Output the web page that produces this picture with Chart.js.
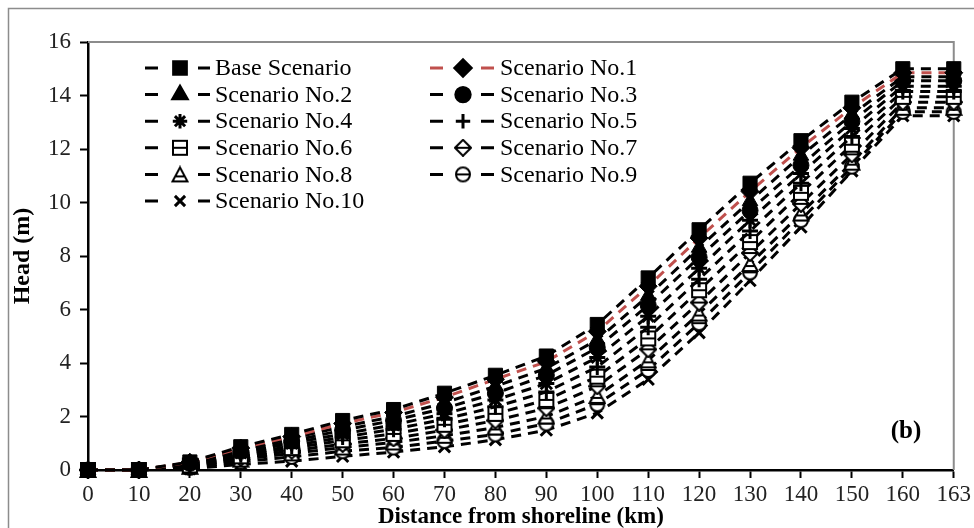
<!DOCTYPE html>
<html>
<head>
<meta charset="utf-8">
<script src="https://cdn.jsdelivr.net/npm/chart.js@4/dist/chart.umd.min.js"></script>
<style>
  html, body { margin: 0; padding: 0; background: #fff; }
  #wrap { width: 974px; height: 528px; }
</style>
</head>
<body>
<div id="wrap"><canvas id="myChart" width="974" height="528"></canvas></div>
<script>
const distances = ["0","10","20","30","40","50","60","70","80","90","100","110","120","130","140","150","160","163"];

const baseScenario = [0,0,0.3,0.87,1.33,1.85,2.26,2.87,3.54,4.26,5.44,7.18,8.98,10.72,12.31,13.75,15.0,15.0];
const scenario1 = [0,0,0.29,0.82,1.25,1.74,2.15,2.72,3.39,4.05,5.18,6.87,8.67,10.41,12.05,13.54,14.85,14.85];
const scenario2 = [0,0,0.27,0.76,1.18,1.62,2.0,2.51,3.13,3.8,4.87,6.51,8.31,10.05,11.75,13.29,14.7,14.7];
const scenario3 = [0,0,0.25,0.7,1.08,1.49,1.85,2.31,2.87,3.54,4.57,6.16,7.95,9.7,11.39,13.03,14.55,14.55];
const scenario4 = [0,0,0.23,0.64,1.0,1.35,1.69,2.1,2.62,3.23,4.21,5.75,7.54,9.34,11.08,12.77,14.35,14.35];
const scenario5 = [0,0,0.2,0.57,0.9,1.23,1.52,1.9,2.36,2.92,3.85,5.34,7.13,8.93,10.72,12.47,14.15,14.15];
const scenario6 = [0,0,0.17,0.51,0.82,1.11,1.35,1.69,2.1,2.62,3.49,4.92,6.72,8.52,10.36,12.16,13.95,13.95];
const scenario7 = [0,0,0.14,0.45,0.72,0.97,1.18,1.49,1.85,2.31,3.13,4.51,6.26,8.11,9.95,11.8,13.75,13.75];
const scenario8 = [0,0,0.12,0.39,0.62,0.84,1.03,1.28,1.59,2.0,2.77,4.1,5.85,7.7,9.59,11.49,13.54,13.54];
const scenario9 = [0,0,0.08,0.31,0.49,0.7,0.84,1.08,1.33,1.74,2.46,3.74,5.49,7.39,9.34,11.34,13.39,13.39];
const scenario10 = [0,0,0.05,0.21,0.33,0.51,0.67,0.87,1.13,1.49,2.13,3.39,5.13,7.08,9.08,11.18,13.24,13.24];

const seriesNames = ["Base Scenario","Scenario No.1","Scenario No.2","Scenario No.3","Scenario No.4",
  "Scenario No.5","Scenario No.6","Scenario No.7","Scenario No.8","Scenario No.9","Scenario No.10"];
const yTicks = [0,2,4,6,8,10,12,14,16];

// open markers with a bar through the middle
function openMarker(shape) {
  const c = document.createElement("canvas");
  c.width = 18; c.height = 18;
  const g = c.getContext("2d");
  g.lineWidth = 2;
  g.strokeStyle = "#000";
  g.fillStyle = "#fff";
  g.beginPath();
  if (shape === "square") g.rect(2, 2, 14, 14);
  if (shape === "diamond") { g.moveTo(9, 1); g.lineTo(17, 9); g.lineTo(9, 17); g.lineTo(1, 9); g.closePath(); }
  if (shape === "triangle") { g.moveTo(9, 2); g.lineTo(16.5, 16); g.lineTo(1.5, 16); g.closePath(); }
  if (shape === "circle") g.arc(9, 9, 7, 0, Math.PI * 2);
  g.fill();
  g.stroke();
  g.beginPath();
  if (shape === "triangle") { g.moveTo(5, 11); g.lineTo(13, 11); }
  else { g.moveTo(2, 9); g.lineTo(16, 9); }
  g.stroke();
  return c;
}

const allData = [baseScenario, scenario1, scenario2, scenario3, scenario4, scenario5,
  scenario6, scenario7, scenario8, scenario9, scenario10];
const styles = [
  { ps: "rect", r: 10, bw: 1 },
  { ps: "rectRot", r: 9, bw: 1, line: "#c0504d" },
  { ps: "triangle", r: 9, bw: 1 },
  { ps: "circle", r: 8, bw: 1 },
  { ps: "star", r: 8, bw: 3 },
  { ps: "cross", r: 8, bw: 3 },
  { ps: openMarker("square"), r: 9, bw: 2 },
  { ps: openMarker("diamond"), r: 9, bw: 2 },
  { ps: openMarker("triangle"), r: 9, bw: 2 },
  { ps: openMarker("circle"), r: 9, bw: 2 },
  { ps: "crossRot", r: 8, bw: 3 }
];

const datasets = allData.map((d, i) => ({
  label: seriesNames[i],
  data: d,
  borderColor: styles[i].line || "#000",
  borderWidth: 3,
  borderDash: [10, 7],
  fill: false,
  tension: 0,
  clip: false,
  pointStyle: styles[i].ps,
  pointRadius: styles[i].r,
  pointBorderWidth: styles[i].bw,
  pointBackgroundColor: "#000",
  pointBorderColor: "#000"
}));

const frame = {
  id: "frame",
  beforeDatasetsDraw(chart) {
    const { ctx, chartArea } = chart;
    ctx.save();
    ctx.strokeStyle = "#8c8c8c";
    ctx.lineWidth = 1.5;
    ctx.beginPath();
    ctx.moveTo(8.5, 528); ctx.lineTo(8.5, 8.5); ctx.lineTo(974, 8.5);
    ctx.stroke();
    ctx.lineWidth = 2;
    ctx.beginPath();
    ctx.moveTo(chartArea.left, chartArea.top); ctx.lineTo(chartArea.right, chartArea.top);
    ctx.lineTo(chartArea.right, chartArea.bottom);
    ctx.stroke();
    ctx.restore();
  },
  afterDraw(chart) {
    const { ctx } = chart;
    ctx.save();
    const cols = [
      { d1: [145, 158], m: 180, d2: [198, 210], t: 213 + 2 },
      { d1: [430, 443], m: 463, d2: [481, 494], t: 500 }
    ];
    chart.data.datasets.forEach((ds, i) => {
      const c = cols[i % 2];
      const y = 68 + Math.floor(i / 2) * 26.6;
      ctx.strokeStyle = ds.borderColor;
      ctx.lineWidth = 3;
      ctx.beginPath();
      ctx.moveTo(c.d1[0], y); ctx.lineTo(c.d1[1], y);
      ctx.moveTo(c.d2[0], y); ctx.lineTo(c.d2[1], y);
      ctx.stroke();
      ctx.fillStyle = "#000";
      ctx.strokeStyle = "#000";
      Chart.helpers.drawPoint(ctx, {
        pointStyle: ds.pointStyle, radius: ds.pointRadius * 0.9,
        borderWidth: ds.pointBorderWidth, rotation: 0
      }, c.m, y);
      ctx.font = '24px "Liberation Serif"';
      ctx.textBaseline = "middle";
      ctx.textAlign = "left";
      ctx.fillText(ds.label, c.t, y + 1);
    });
    ctx.font = 'bold 25px "Liberation Serif"';
    ctx.textAlign = "center";
    ctx.fillText("(b)", 906, 432);
    ctx.restore();
  }
};

new Chart(document.getElementById("myChart").getContext("2d"), {
  type: "line",
  data: { labels: distances, datasets: datasets },
  options: {
    responsive: false,
    animation: false,
    layout: { padding: { top: 42, right: 20, left: 0, bottom: 0 } },
    plugins: { legend: { display: false }, tooltip: { enabled: false } },
    scales: {
      x: {
        offset: false,
        afterFit(scale) { scale.height = 58; },
        grid: { display: true, drawOnChartArea: false, drawTicks: true, tickLength: 8, color: "#000", tickWidth: 2 },
        border: { display: true, color: "#000", width: 2.5 },
        ticks: { color: "#222", font: { family: "Liberation Serif", size: 23 }, padding: 3, maxRotation: 0, autoSkip: false },
        title: { display: true, text: "Distance from shoreline (km)", color: "#000",
          font: { family: "Liberation Serif", size: 23, weight: "bold", lineHeight: 1 }, padding: { top: 0, bottom: -1 } }
      },
      y: {
        min: 0, max: 16,
        afterFit(scale) { scale.width = 88; },
        afterBuildTicks(scale) { scale.ticks = yTicks.map(v => ({ value: v })); },
        grid: { display: true, drawOnChartArea: false, drawTicks: true, tickLength: 8, color: "#000", tickWidth: 2 },
        border: { display: true, color: "#000", width: 2.5 },
        ticks: { color: "#222", font: { family: "Liberation Serif", size: 23 }, padding: 9 },
        title: { display: true, text: "Head (m)", color: "#000",
          font: { family: "Liberation Serif", size: 24, weight: "bold", lineHeight: 1.2 }, padding: { top: 8, bottom: 0 } }
      }
    }
  },
  plugins: [frame]
});
</script>
</body>
</html>
